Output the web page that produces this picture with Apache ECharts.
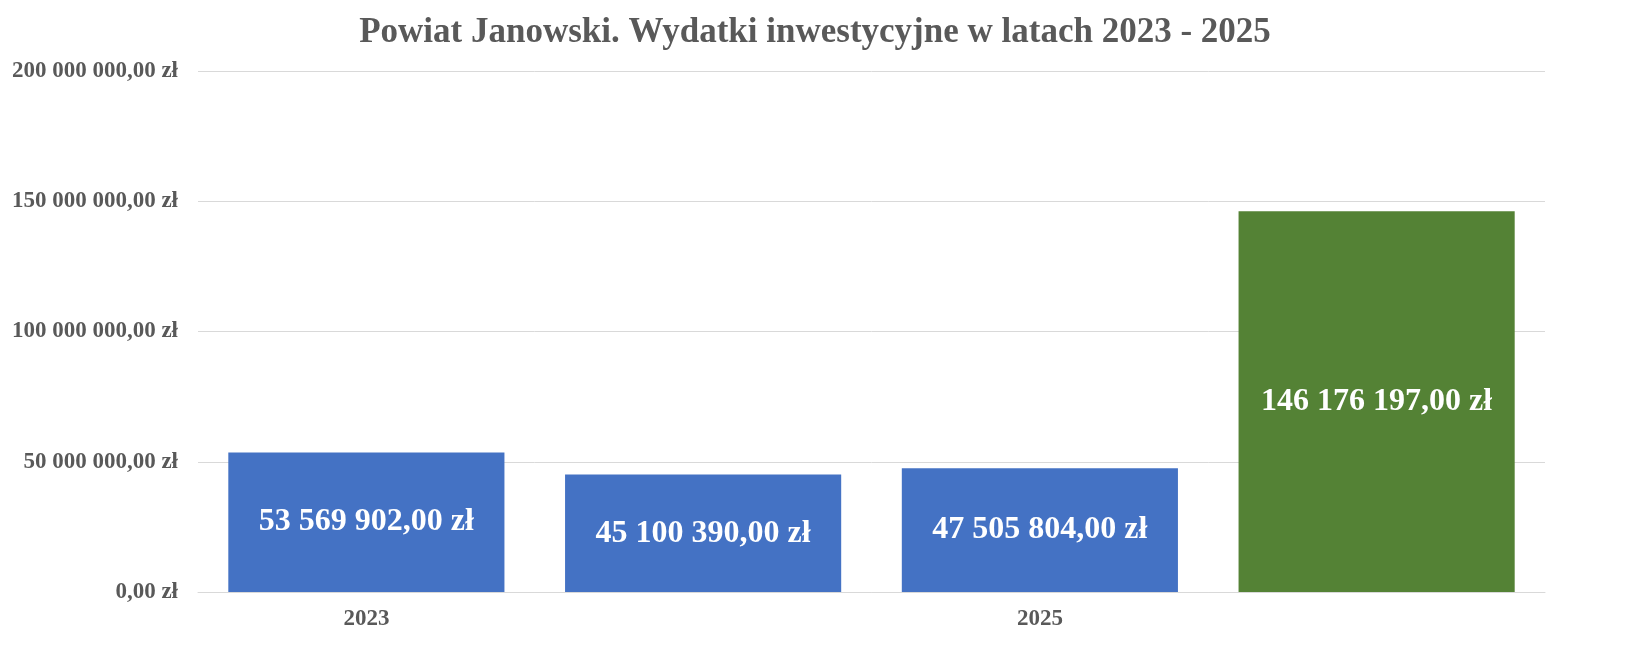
<!DOCTYPE html>
<html><head><meta charset="utf-8">
<script src="https://cdn.jsdelivr.net/npm/echarts@6/dist/echarts.min.js"></script>
<style>html,body{margin:0;padding:0;background:#fff}#c{width:1630px;height:663px}</style>
</head><body><div id="c"></div>
<script>
const categories = ['2023', '2024', '2025', 'Ogółem w latach 2023 - 2025'];
const values = [53569902, 45100390, 47505804, 146176197];
const colors = ['#4472C4', '#4472C4', '#4472C4', '#548235'];
const fmt = v => {
  const s = Math.round(v).toString().replace(/\B(?=(\d{3})+(?!\d))/g, ' ');
  return s + ',00 zł';
};
const font = '"Liberation Serif", "Times New Roman", serif';
const chart = echarts.init(document.getElementById('c'));
chart.setOption({
  animation: false,
  title: { text: 'Powiat Janowski. Wydatki inwestycyjne w latach 2023 - 2025', left: 'center', top: 10,
    textStyle: { fontFamily: font, fontSize: 35, fontWeight: 'bold', color: '#595959' } },
  grid: { left: 198, right: 85, top: 71, bottom: 71, containLabel: false },
  xAxis: { type: 'category', data: categories,
    axisLine: { lineStyle: { color: '#D9D9D9' } }, axisTick: { show: false },
    axisLabel: { fontFamily: font, fontSize: 23, fontWeight: 'bold', color: '#595959', margin: 16 } },
  yAxis: { type: 'value', min: 0, max: 200000000, interval: 50000000,
    axisLine: { show: false }, axisTick: { show: false },
    splitLine: { lineStyle: { color: '#D9D9D9' } },
    axisLabel: { fontFamily: font, fontSize: 23, fontWeight: 'bold', color: '#595959', margin: 20,
      formatter: v => v === 0 ? '0,00 zł' : fmt(v) } },
  series: [{ type: 'bar', barCategoryGap: '18%',
    data: values.map((v, i) => ({ value: v, itemStyle: { color: colors[i] } })),
    label: { show: true, position: 'inside', fontFamily: font, fontSize: 32, fontWeight: 'bold', color: '#fff',
      formatter: p => fmt(p.value) } }]
});
</script></body></html>
